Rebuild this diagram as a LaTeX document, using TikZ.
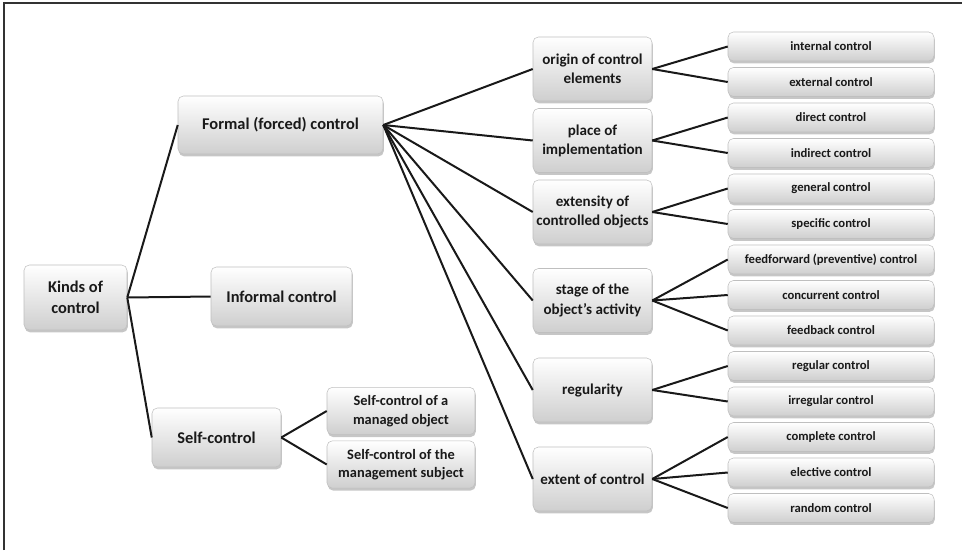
\documentclass[tikz,border=0pt]{standalone}
\usepackage{fontspec}
\setmainfont{Carlito}
\usetikzlibrary{positioning,shadows,shapes}

\begin{document}
\begin{tikzpicture}[x=0.75pt,y=-0.75pt,
  box/.style={draw=gray!50, line width=0.4pt, rounded corners=4pt,
    top color=white, bottom color=gray!38,
    drop shadow={shadow xshift=0.6pt, shadow yshift=-1.8pt, opacity=0.45},
    align=center, text=black!90, inner sep=1pt},
  big/.style={box, font=\fontsize{12.3}{16}\selectfont\bfseries},
  mid/.style={box, font=\fontsize{11.3}{14.3}\selectfont\bfseries,
    minimum width=89.25pt, minimum height=48pt},
  sub/.style={box, font=\fontsize{10.8}{14}\selectfont\bfseries,
    minimum width=111pt, minimum height=35.5pt},
  leaf/.style={box, font=\fontsize{9.5}{11}\selectfont\bfseries,
    minimum width=154.5pt, minimum height=21.75pt},
  link/.style={line width=1.5pt, black!90}]

  \useasboundingbox (0,0) rectangle (962,550);
  % frame
  \draw[line width=1.1pt, black!80] (4,550) -- (4,3) -- (962,3);

  % Root and first level
  \node[big, minimum width=77.25pt, minimum height=48.75pt] (kinds) at (75.5,297.5) {Kinds of\\control};
  \node[big, minimum width=153.75pt, minimum height=43.5pt] (formal) at (280.5,125) {Formal (forced) control};
  \node[big, minimum width=105.75pt, minimum height=44.25pt] (informal) at (281.5,296.5) {Informal control};
  \node[big, minimum width=96.75pt, minimum height=44.25pt] (self) at (216.5,437.5) {Self-control};

  % Self-control branches
  \node[sub] (selfobj) at (401,411) {Self-control of a\\managed object};
  \node[sub] (selfsubj) at (401,464.5) {Self-control of the\\management subject};

  % Criteria
  \node[mid] (origin) at (592.5,69) {origin of control\\elements};
  \node[mid] (place) at (592.5,140.5) {place of\\implementation};
  \node[mid] (extensity) at (592.5,212) {extensity of\\controlled objects};
  \node[mid] (stage) at (592.5,300.5) {stage of the\\object's activity};
  \node[mid] (regularity) at (592.5,390) {regularity};
  \node[mid] (extent) at (592.5,479) {extent of control};

  % Kinds
  \foreach \name/\txt [count=\i from 0] in {internal/internal control,
      external/external control, direct/direct control,
      indirect/indirect control, general/general control,
      specific/specific control,
      feedforward/feedforward (preventive) control,
      concurrent/concurrent control, feedback/feedback control,
      regular/regular control, irregular/irregular control,
      complete/complete control, elective/elective control,
      random/random control}
    \node[leaf] (\name) at (831,46.5+35.5*\i) {\txt};

  % Links
  \foreach \a/\b in {kinds/formal, kinds/informal, kinds/self,
      self/selfobj, self/selfsubj,
      formal/origin, formal/place, formal/extensity, formal/stage,
      formal/regularity, formal/extent,
      origin/internal, origin/external, place/direct, place/indirect,
      extensity/general, extensity/specific,
      stage/feedforward, stage/concurrent, stage/feedback,
      regularity/regular, regularity/irregular,
      extent/complete, extent/elective, extent/random}
    \draw[link] (\a.east) -- (\b.west);
\end{tikzpicture}
\end{document}
